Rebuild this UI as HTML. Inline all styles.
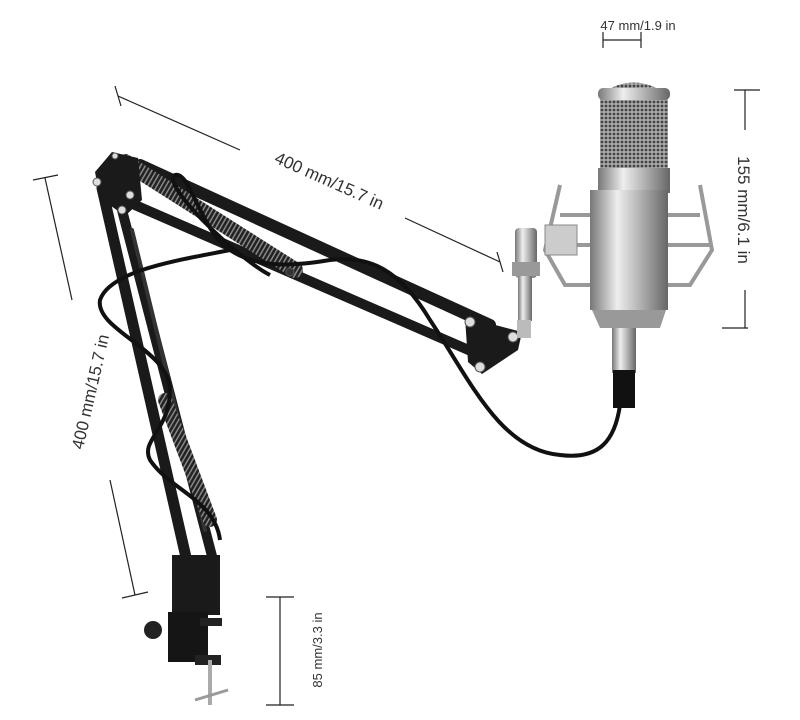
<!DOCTYPE html>
<html><head><meta charset="utf-8"><style>
html,body{margin:0;padding:0;background:#fff;}
svg{display:block;}
text{font-family:"Liberation Sans",sans-serif;fill:#333;}
</style></head><body>
<svg width="800" height="720" viewBox="0 0 800 720" xmlns="http://www.w3.org/2000/svg">
<defs>
<linearGradient id="sil" x1="0" x2="1" y1="0" y2="0">
<stop offset="0" stop-color="#777"/><stop offset="0.35" stop-color="#eee"/><stop offset="0.6" stop-color="#bbb"/><stop offset="1" stop-color="#666"/>
</linearGradient>
<pattern id="mesh" width="4" height="4" patternUnits="userSpaceOnUse">
<rect width="4" height="4" fill="#aaa"/><circle cx="2" cy="2" r="1.4" fill="#444"/>
</pattern>
<pattern id="spr" width="4" height="4" patternUnits="userSpaceOnUse" patternTransform="rotate(30)">
<rect width="4" height="4" fill="#222"/><rect width="1.5" height="4" fill="#888"/>
</pattern>
</defs>

<g stroke="#222" stroke-width="1.2" fill="none">
<line x1="603" y1="40" x2="641" y2="40"/><line x1="603" y1="32" x2="603" y2="48"/><line x1="641" y1="32" x2="641" y2="48"/>
<line x1="118" y1="96" x2="240" y2="150"/><line x1="115" y1="86" x2="121" y2="106"/>
<line x1="405" y1="218" x2="500" y2="262"/><line x1="497" y1="252" x2="503" y2="272"/>
<line x1="734" y1="90" x2="760" y2="90"/><line x1="745" y1="90" x2="745" y2="130"/>
<line x1="745" y1="290" x2="745" y2="328"/><line x1="722" y1="328" x2="748" y2="328"/>
<line x1="33" y1="180" x2="58" y2="175"/><line x1="45" y1="178" x2="72" y2="300"/>
<line x1="110" y1="480" x2="135" y2="595"/><line x1="122" y1="598" x2="148" y2="592"/>
<line x1="266" y1="597" x2="294" y2="597"/><line x1="280" y1="597" x2="280" y2="705"/><line x1="266" y1="705" x2="294" y2="705"/>
</g>
<text x="638" y="30" font-size="13" text-anchor="middle">47 mm/1.9 in</text>
<text transform="translate(327,186) rotate(24)" font-size="17" text-anchor="middle">400 mm/15.7 in</text>
<text transform="translate(738,210) rotate(90)" font-size="17" text-anchor="middle">155 mm/6.1 in</text>
<text transform="translate(96,393) rotate(-77)" font-size="17" text-anchor="middle">400 mm/15.7 in</text>
<text transform="translate(322,650) rotate(-90)" font-size="13" text-anchor="middle">85 mm/3.3 in</text>

<g stroke-linecap="round">
<line x1="102" y1="188" x2="190" y2="575" stroke="#1a1a1a" stroke-width="11"/>
<line x1="122" y1="210" x2="213" y2="560" stroke="#1a1a1a" stroke-width="10"/>
<line x1="132" y1="230" x2="205" y2="530" stroke="#333" stroke-width="4"/>
<line x1="165" y1="400" x2="210" y2="520" stroke="url(#spr)" stroke-width="14"/>
</g>
<g stroke-linecap="round">
<line x1="140" y1="165" x2="490" y2="325" stroke="#1a1a1a" stroke-width="12"/>
<line x1="135" y1="205" x2="480" y2="355" stroke="#1a1a1a" stroke-width="10"/>
<line x1="125" y1="162" x2="295" y2="270" stroke="url(#spr)" stroke-width="16"/>
</g>
<polygon points="95,172 112,152 138,158 142,200 125,216 100,198" fill="#1a1a1a"/>
<polygon points="465,317 522,332 518,350 482,374 468,362" fill="#1a1a1a"/>
<g fill="#ddd" stroke="#555">
<circle cx="97" cy="182" r="4"/><circle cx="130" cy="195" r="4"/><circle cx="122" cy="210" r="4"/><circle cx="115" cy="156" r="3"/>
<circle cx="470" cy="322" r="5"/><circle cx="513" cy="337" r="5"/><circle cx="480" cy="367" r="5"/>
<circle cx="290" cy="272" r="4" fill="#333"/>
<circle cx="177" cy="570" r="4"/><circle cx="211" cy="600" r="4"/>
</g>

<rect x="172" y="555" width="48" height="60" fill="#1a1a1a"/>
<rect x="168" y="612" width="40" height="50" fill="#151515"/>
<rect x="200" y="618" width="22" height="8" fill="#222"/>
<rect x="195" y="655" width="26" height="10" fill="#222"/>
<circle cx="153" cy="630" r="9" fill="#222"/>
<line x1="210" y1="660" x2="210" y2="705" stroke="#aaa" stroke-width="4"/>
<line x1="195" y1="700" x2="228" y2="690" stroke="#999" stroke-width="3"/>

<path d="M620,405 C615,440 600,460 560,455 C500,450 470,380 430,320 C400,270 370,255 330,260 C300,265 260,270 230,250 C200,230 190,170 175,175 C160,185 240,260 270,275 M230,250 C180,260 110,270 100,300 C95,330 170,350 170,390 C170,430 140,440 150,460 C170,490 215,500 220,540" fill="none" stroke="#111" stroke-width="4"/>

<rect x="515" y="228" width="22" height="50" rx="4" fill="url(#sil)"/>
<rect x="512" y="262" width="28" height="14" fill="#999"/>
<rect x="518" y="276" width="14" height="45" fill="url(#sil)"/>
<rect x="517" y="320" width="14" height="18" fill="#bbb"/>
<g stroke="#999" stroke-width="4" fill="none">
<path d="M560,185 L545,250 L565,285 L600,285"/>
<path d="M700,185 L712,250 L690,285 L660,285"/>
<path d="M560,215 L700,215"/><path d="M545,245 L712,245"/>
</g>
<path d="M600,95 Q633,70 668,95 L668,175 L600,175 Z" fill="url(#mesh)"/>
<rect x="598" y="88" width="72" height="12" rx="5" fill="url(#sil)"/>
<rect x="598" y="168" width="72" height="25" fill="url(#sil)"/>
<rect x="590" y="190" width="78" height="120" fill="url(#sil)"/>
<path d="M592,310 L666,310 L660,328 L600,328 Z" fill="#999"/>
<rect x="545" y="225" width="32" height="30" fill="#ccc" stroke="#888"/>
<rect x="612" y="328" width="24" height="45" fill="url(#sil)"/>
<rect x="613" y="370" width="22" height="38" fill="#111"/>
</svg>
</body></html>
